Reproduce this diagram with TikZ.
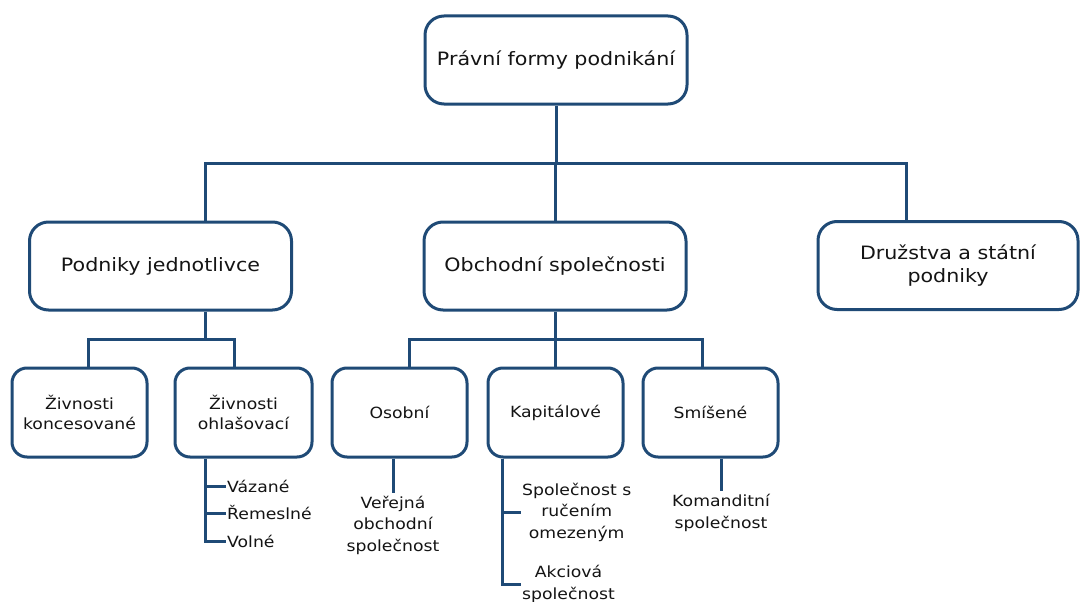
\documentclass[tikz,border=0pt]{standalone}
\usepackage{fontspec}
\setmainfont{DejaVu Sans}
\newfontfamily\formfont[FakeStretch=1.12]{DejaVu Sans}
\usetikzlibrary{positioning}
\definecolor{linkblue}{RGB}{31,74,118}
\definecolor{inkgray}{RGB}{20,20,20}

\tikzset{
  formbox/.style={draw=linkblue, line width=3pt, fill=white, align=center, text=inkgray},
  bigbox/.style={formbox, rounded corners=19pt, minimum width=262pt, minimum height=88pt,
    font=\formfont\fontsize{18.4}{23}\selectfont},
  smallbox/.style={formbox, rounded corners=15pt, minimum width=135pt, minimum height=89pt,
    font=\formfont\fontsize{15.4}{19.5}\selectfont},
  leaf/.style={align=center, text=inkgray, inner sep=1pt, font=\formfont\fontsize{15.4}{21.5}\selectfont},
  link/.style={draw=linkblue, line width=3pt},
}

\begin{document}
\begin{tikzpicture}[x=1pt,y=-1pt]
    \fill[white] (0,0) rectangle (1081,602);
    \useasboundingbox (0,0) rectangle (1081,602);

    % top level
    \node[bigbox] (pfp) at (556,60) {Právní formy podnikání};

    % second level
    \node[bigbox] (pj) at (160.5,266) {Podniky jednotlivce};
    \node[bigbox] (obs) at (555,266) {Obchodní společnosti};
    \node[bigbox, minimum width=260pt] (dsp) at (948,265.5) {Družstva a státní\\podniky};

    % third level
    \node[smallbox] (zk) at (79.5,412.5) {Živnosti\\koncesované};
    \node[smallbox, minimum width=137pt] (zo) at (243.5,412.5) {Živnosti\\ohlašovací};
    \node[smallbox] (osb) at (399.5,412.5) {Osobní};
    \node[smallbox] (kap) at (555.5,412.5) {Kapitálové};
    \node[smallbox] (smi) at (710.5,412.5) {Smíšené};

    % leaves
    \node[leaf, anchor=west] (vaz) at (226,486) {Vázané};
    \node[leaf, anchor=west] (rem) at (226,513) {Řemeslné};
    \node[leaf, anchor=west] (vol) at (226,541) {Volné};
    \node[leaf, inner ysep=3pt] (vos) at (393,525) {Veřejná\\obchodní\\společnost};
    \node[leaf, anchor=west] (sro) at (521,512) {Společnost s\\ručením\\omezeným};
    \node[leaf, anchor=west, align=center] (aks) at (521,584) {Akciová\\společnost};
    \node[leaf, inner ysep=3pt] (kms) at (721,513) {Komanditní\\společnost};

    % bus lines
    \coordinate (busL) at (205,163);
    \coordinate (busR) at (906,163);
    \coordinate (pjL) at (88,339);
    \coordinate (pjR) at (234,339);
    \coordinate (obL) at (409,339);
    \coordinate (obR) at (702,339);
    \coordinate (zoStem) at (205,541);
    \coordinate (kapStem) at (502,584);

    \draw[link] (pfp.south) -- (pfp.south |- busL);
    \draw[link] (busL |- pj.north) -- (busL) -- (busR) -- (busR |- dsp.north);
    \draw[link] (obs.north) -- (obs.north |- busL);

    \draw[link] (busL |- pj.south) -- (busL |- pjL);
    \draw[link] (pjL |- zk.north) -- (pjL) -- (pjR) -- (pjR |- zo.north);

    \draw[link] (obs.south) -- (obs.south |- obL);
    \draw[link] (obL |- osb.north) -- (obL) -- (obR) -- (obR |- smi.north);
    \draw[link] (kap.north) -- (kap.north |- obL);

    % stems under the third level
    \draw[link] (zoStem |- zo.south) -- (zoStem) -- (vol.west);
    \draw[link] (zoStem |- vaz) -- (vaz.west);
    \draw[link] (zoStem |- rem) -- (rem.west);

    \draw[link] (vos.north |- osb.south) -- (vos.north);

    \draw[link] (kapStem |- kap.south) -- (kapStem) -- (aks.west);
    \draw[link] (kapStem |- sro) -- (sro.west);

    \draw[link] (kms.north |- smi.south) -- (kms.north);
\end{tikzpicture}
\end{document}
